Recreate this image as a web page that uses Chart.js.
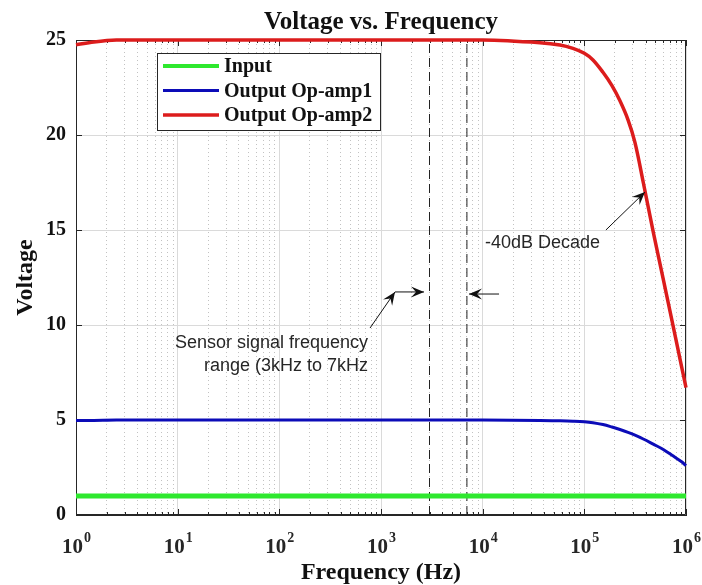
<!DOCTYPE html>
<html>
<head>
<meta charset="utf-8">
<script src="https://cdn.jsdelivr.net/npm/chart.js@4.4.1/dist/chart.umd.min.js"></script>
<style>
  html, body { margin: 0; padding: 0; background: #fff; }
</style>
</head>
<body>
<canvas id="voltageChart" width="702" height="585"></canvas>
<script>
// values
const freqHz   = [1, 1.5, 2.5, 10, 100, 1000, 10000, 36600, 57600, 77300, 100000, 121600, 152500, 187000, 224000, 269000, 315000, 380000, 476000, 598000, 750000, 906000, 1000000];
const inputV   = [1, 1, 1, 1, 1, 1, 1, 1, 1, 1, 1, 1, 1, 1, 1, 1, 1, 1, 1, 1, 1, 1, 1];
const opamp1V  = [4.97, 4.98, 5, 5, 5, 5, 5, 4.98, 4.96, 4.94, 4.91, 4.86, 4.76, 4.63, 4.5, 4.35, 4.2, 4.0, 3.73, 3.45, 3.1, 2.8, 2.6];
const opamp2V  = [24.75, 24.9, 25, 25, 25, 25, 25, 24.86, 24.74, 24.56, 24.3, 23.95, 23.3, 22.6, 21.8, 20.8, 19.6, 17.5, 14.9, 12.4, 9.9, 7.8, 6.7];
const seriesLabels = ['Input', 'Output Op-amp1', 'Output Op-amp2'];
const seriesColors = ['#2ee82e', '#0c0cb8', '#dc1c1c'];
const bandEdgesHz = [3000, 7000];
const xTickValues = [1, 10, 100, 1000, 10000, 100000, 1000000];
const xTickExps = ['0', '1', '2', '3', '4', '5', '6'];
const yTickValues = [0, 5, 10, 15, 20, 25];

// minor grid positions: 1..9 x each decade
const xGridValues = [];
for (let i = 0; i < xTickValues.length - 1; i++) {
  for (let k = 1; k <= 9; k++) xGridValues.push(k * xTickValues[i]);
}
xGridValues.push(xTickValues[xTickValues.length - 1]);

const isDecade = v => Math.abs(Math.log10(v) - Math.round(Math.log10(v))) < 1e-9;
const pts = vals => freqHz.map((f, i) => ({ x: f, y: vals[i] }));

const axisColor = '#262626';
const serif = '"Liberation Serif", "Times New Roman", serif';
const sans = '"Liberation Sans", Arial, sans-serif';

function arrowHead(ctx, x0, y0, x1, y1) {
  const a = Math.atan2(y1 - y0, x1 - x0);
  ctx.save();
  ctx.translate(x1, y1);
  ctx.rotate(a);
  ctx.beginPath();
  ctx.moveTo(0, 0);
  ctx.lineTo(-13, -5.5);
  ctx.lineTo(-8, 0);
  ctx.lineTo(-13, 5.5);
  ctx.closePath();
  ctx.fill();
  ctx.restore();
}

const matlabLook = {
  id: 'matlabLook',
  beforeDatasetsDraw(chart) {
    const { ctx, chartArea: a, scales: { x, y } } = chart;
    ctx.save();
    ctx.strokeStyle = axisColor;
    ctx.lineWidth = 1;
    ctx.beginPath();
    ctx.rect(a.left + 0.5, a.top + 0.5, a.right - a.left - 1, a.bottom - a.top - 1);
    // inward tick marks
    xGridValues.forEach(v => {
      const px = Math.round(x.getPixelForValue(v)) + 0.5;
      const len = isDecade(v) ? 6 : 3;
      ctx.moveTo(px, a.bottom); ctx.lineTo(px, a.bottom - len);
      ctx.moveTo(px, a.top); ctx.lineTo(px, a.top + len);
    });
    yTickValues.forEach(v => {
      const py = Math.round(y.getPixelForValue(v)) + 0.5;
      ctx.moveTo(a.left, py); ctx.lineTo(a.left + 6, py);
      ctx.moveTo(a.right, py); ctx.lineTo(a.right - 6, py);
    });
    ctx.stroke();
    ctx.restore();
  },
  afterDatasetsDraw(chart) {
    const { ctx, chartArea: a, scales: { x, y } } = chart;
    const P = (fx, vy) => [x.getPixelForValue(fx), y.getPixelForValue(vy)];
    ctx.save();
    ctx.strokeStyle = '#111';
    ctx.fillStyle = '#111';
    ctx.lineWidth = 1;

    const arrows = [
      [[780, 9.84], [1373, 11.74]],
      [[1373, 11.74], [2650, 11.74]],
      [[14490, 11.63], [7340, 11.63]],
      [[163000, 15.0], [395000, 17.0]]
    ];
    arrows.forEach(([f, t]) => {
      const [x0, y0] = P(f[0], f[1]);
      const [x1, y1] = P(t[0], t[1]);
      ctx.beginPath();
      ctx.moveTo(x0, y0);
      ctx.lineTo(x1, y1);
      ctx.stroke();
      arrowHead(ctx, x0, y0, x1, y1);
    });

    ctx.fillStyle = axisColor;
    ctx.font = '18px ' + sans;
    ctx.textBaseline = 'middle';
    ctx.textAlign = 'right';
    let [tx, ty] = P(745, 9.05);
    ctx.fillText('Sensor signal frequency', tx, ty);
    [tx, ty] = P(745, 7.84);
    ctx.fillText('range (3kHz to 7kHz', tx, ty);
    ctx.textAlign = 'left';
    [tx, ty] = P(10540, 14.3);
    ctx.fillText('-40dB Decade', tx, ty);

    // legend box
    const lx = a.left + 81, ly = a.top + 13, lw = 223, lh = 77;
    ctx.fillStyle = '#fff';
    ctx.fillRect(lx, ly, lw, lh);
    ctx.strokeStyle = axisColor;
    ctx.strokeRect(lx + 0.5, ly + 0.5, lw, lh);
    ctx.font = 'bold 20px ' + serif;
    ctx.textAlign = 'left';
    ctx.textBaseline = 'middle';
    chart.data.datasets.slice(0, 3).forEach((ds, i) => {
      const ry = ly + 13 + i * 24.5;
      ctx.strokeStyle = ds.borderColor;
      ctx.lineWidth = Math.min(ds.borderWidth, 4);
      ctx.beginPath();
      ctx.moveTo(lx + 6, ry);
      ctx.lineTo(lx + 62, ry);
      ctx.stroke();
      ctx.fillStyle = '#111';
      ctx.fillText(ds.label, lx + 67, ry + 1);
    });
    ctx.restore();
  },
  afterDraw(chart) {
    const { ctx, chartArea: a, scales: { x } } = chart;
    ctx.save();
    ctx.fillStyle = axisColor;
    ctx.textBaseline = 'alphabetic';
    ctx.textAlign = 'left';
    xTickValues.forEach((v, i) => {
      const px = x.getPixelForValue(v);
      ctx.font = 'bold 21px ' + serif;
      const w1 = ctx.measureText('10').width;
      ctx.font = 'bold 14px ' + serif;
      const w2 = ctx.measureText(xTickExps[i]).width;
      const left = px - (w1 + w2) / 2;
      ctx.font = 'bold 21px ' + serif;
      ctx.fillText('10', left, a.bottom + 38);
      ctx.font = 'bold 14px ' + serif;
      ctx.fillText(xTickExps[i], left + w1 + 1, a.bottom + 27);
    });
    ctx.restore();
  }
};

const lineSet = (label, vals, color, width) => ({
  label: label,
  data: pts(vals),
  borderColor: color,
  backgroundColor: color,
  borderWidth: width,
  pointRadius: 0,
  tension: 0.35,
  clip: false
});

const bandSet = f => ({
  label: 'band ' + f,
  data: [{ x: f, y: 0 }, { x: f, y: 25 }],
  borderColor: '#222',
  borderWidth: 1,
  borderDash: [9, 5],
  pointRadius: 0
});

new Chart(document.getElementById('voltageChart').getContext('2d'), {
  type: 'line',
  data: {
    datasets: [
      lineSet(seriesLabels[0], inputV, seriesColors[0], 5),
      lineSet(seriesLabels[1], opamp1V, seriesColors[1], 3),
      lineSet(seriesLabels[2], opamp2V, seriesColors[2], 3.5),
      bandSet(bandEdgesHz[0]),
      bandSet(bandEdgesHz[1])
    ]
  },
  options: {
    responsive: false,
    animation: false,
    layout: { padding: { left: 0, right: 16, top: 0, bottom: 0 } },
    plugins: {
      legend: { display: false },
      tooltip: { enabled: false },
      title: {
        display: true,
        text: 'Voltage vs. Frequency',
        fullSize: false,
        color: '#111',
        font: { family: serif, size: 25, weight: 'bold', lineHeight: 1 },
        padding: { top: 10, bottom: 5 }
      }
    },
    scales: {
      x: {
        type: 'logarithmic',
        min: 1,
        max: 1000000,
        afterBuildTicks: s => { s.ticks = xGridValues.map(v => ({ value: v })); },
        afterFit: s => { s.height = 70; s.paddingLeft = 0; s.paddingRight = 0; },
        ticks: { display: false, autoSkip: false },
        grid: {
          drawTicks: false,
          color: c => (c.tick && !isDecade(c.tick.value)) ? '#c2c2c2' : '#dadada'
        },
        border: {
          color: axisColor,
          dash: c => (c.tick && !isDecade(c.tick.value)) ? [1, 3] : []
        },
        title: {
          display: true,
          text: 'Frequency (Hz)',
          color: '#111',
          font: { family: serif, size: 24, weight: 'bold', lineHeight: 1 },
          padding: { top: 0, bottom: 0 }
        }
      },
      y: {
        min: 0,
        max: 25,
        afterBuildTicks: s => { s.ticks = yTickValues.map(v => ({ value: v })); },
        afterFit: s => { s.width = 76; s.paddingTop = 0; s.paddingBottom = 0; },
        ticks: {
          color: '#111',
          padding: 10,
          font: { family: serif, size: 20, weight: 'bold' }
        },
        grid: { drawTicks: false, color: '#dadada' },
        border: { color: axisColor },
        title: {
          display: true,
          text: 'Voltage',
          color: '#111',
          font: { family: serif, size: 24, weight: 'bold', lineHeight: 1 },
          padding: { top: 14, bottom: 0 }
        }
      }
    }
  },
  plugins: [matlabLook]
});
</script>
</body>
</html>
